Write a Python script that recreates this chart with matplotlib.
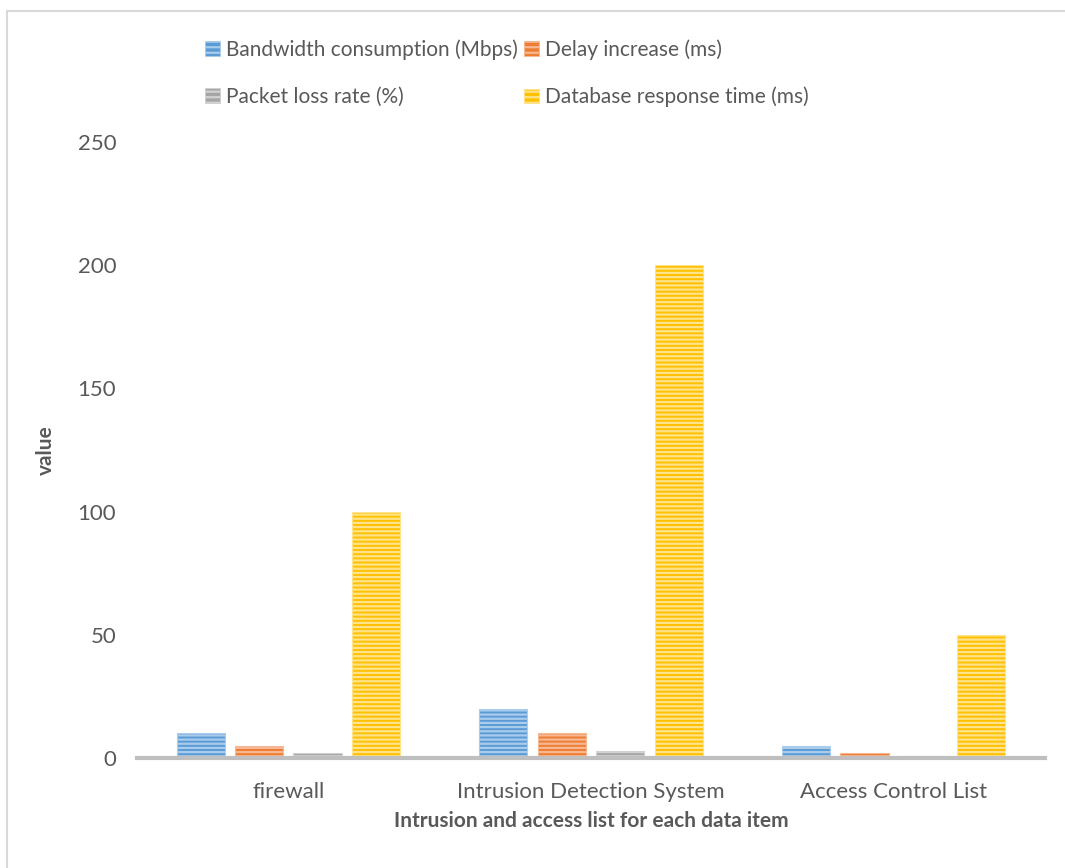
import numpy as np
import matplotlib; matplotlib.use("Agg")
import matplotlib.pyplot as plt
from matplotlib.lines import Line2D

plt.rcParams["font.family"] = ["Lato", "DejaVu Sans"]
plt.rcParams["hatch.linewidth"] = 1.6

# Data
categories = ["firewall", "Intrusion Detection System", "Access Control List"]
series = ["Bandwidth consumption (Mbps)", "Delay increase (ms)",
          "Packet loss rate (%)", "Database response time (ms)"]
bandwidth = [10, 20, 5]
delay     = [5, 10, 2]
loss      = [2, 3, 1]
db_resp   = [100, 200, 50]
values = [bandwidth, delay, loss, db_resp]

colors = ["#5b9bd5", "#ed7d31", "#a5a5a5", "#ffc000"]
tints  = ["#a9cbec", "#f6b894", "#d2d2d2", "#ffe38a"]
TXT = "#595959"

fig = plt.figure(figsize=(10.65, 8.68), dpi=100)
ax = fig.add_axes([137/1065, 1-758/868, (1045-137)/1065, (758-142)/868])

x = np.arange(len(categories))
step, w = 0.193, 0.159
offsets = (np.arange(4) - 1.5) * step
handles = []
for i, (name, vals) in enumerate(zip(series, values)):
    ax.bar(x + offsets[i], vals, w, color=colors[i], edgecolor=tints[i],
           hatch="----", linewidth=0.8, zorder=2)
    handles.append(plt.Rectangle((0, 0), 1, 1, facecolor=colors[i],
                                 edgecolor=tints[i], hatch="---", linewidth=0.5))

ax.set_xlim(-0.5, 2.5)
ax.set_ylim(0, 250)
ax.set_yticks(range(0, 251, 50))
ax.set_xticks(x)
ax.set_xticklabels(categories)
ax.tick_params(axis="both", length=0, labelsize=16, colors=TXT)
ax.tick_params(axis="y", pad=15)
ax.tick_params(axis="x", pad=17)
for s in ["top", "right", "left"]:
    ax.spines[s].set_visible(False)
ax.spines["bottom"].set_color("#bfbfbf")
ax.spines["bottom"].set_linewidth(3)
ax.spines["bottom"].set_zorder(3)

ax.set_xlabel("Intrusion and access list for each data item", fontsize=15,
              fontweight="bold", color=TXT, labelpad=7)
ax.set_ylabel("value", fontsize=15, fontweight="bold", color=TXT)
ax.yaxis.set_label_coords(-0.089, 0.5)

# row-wise legend order: matplotlib fills columns first
order = [0, 2, 1, 3]
fig.legend([handles[k] for k in order], [series[k] for k in order],
           loc="upper left", bbox_to_anchor=(205/1065, 1-39/868),
           ncol=2, frameon=False, fontsize=15, labelcolor=TXT,
           handlelength=0.7, handleheight=0.7, handletextpad=0.3,
           labelspacing=1.3, columnspacing=0.3, borderpad=0, borderaxespad=0)

# outer chart border (left and top visible)
fig.add_artist(Line2D([7/1065, 7/1065], [0, 1-11/868], color="#d9d9d9", lw=1.5,
                      transform=fig.transFigure))
fig.add_artist(Line2D([7/1065, 1], [1-11/868, 1-11/868], color="#d9d9d9", lw=1.5,
                      transform=fig.transFigure))

fig.savefig("out.png", dpi=100)
